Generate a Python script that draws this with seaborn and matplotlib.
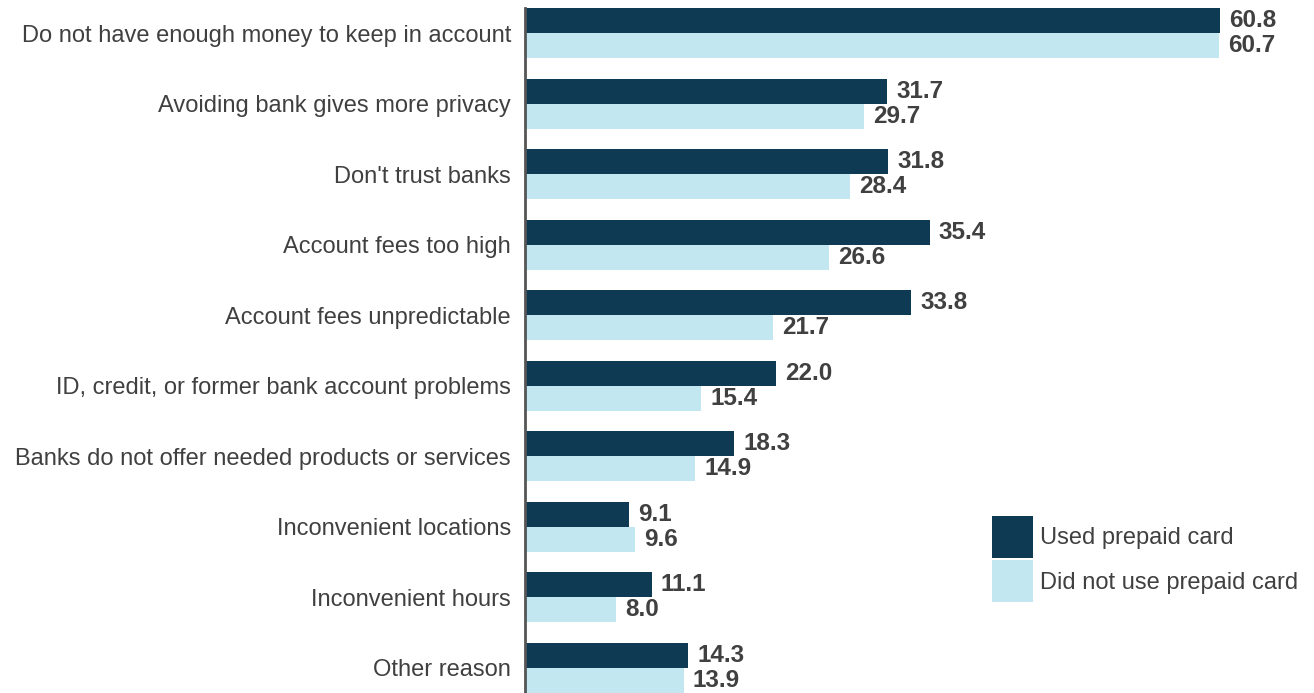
import matplotlib
matplotlib.use("Agg")
import matplotlib.pyplot as plt
import seaborn as sns
import pandas as pd

reasons = [
    "Do not have enough money to keep in account",
    "Avoiding bank gives more privacy",
    "Don't trust banks",
    "Account fees too high",
    "Account fees unpredictable",
    "ID, credit, or former bank account problems",
    "Banks do not offer needed products or services",
    "Inconvenient locations",
    "Inconvenient hours",
    "Other reason",
]
used_prepaid = [60.8, 31.7, 31.8, 35.4, 33.8, 22.0, 18.3, 9.1, 11.1, 14.3]
not_used_prepaid = [60.7, 29.7, 28.4, 26.6, 21.7, 15.4, 14.9, 9.6, 8.0, 13.9]
groups = ["Used prepaid card", "Did not use prepaid card"]
colors = ["#0f3a53", "#c3e7f1"]

df = pd.DataFrame({
    "reason": reasons * 2,
    "value": used_prepaid + not_used_prepaid,
    "group": [groups[0]] * len(reasons) + [groups[1]] * len(reasons),
})

sns.set_theme(style="white")
plt.rcParams["font.family"] = ["Liberation Sans", "DejaVu Sans"]
text_color = "#404040"

fig = plt.figure(figsize=(13.14, 6.93), dpi=100)
ax = fig.add_axes([525 / 1314, 0.0, 1 - 525 / 1314, 1 - 8 / 693])

width = 0.71
sns.barplot(data=df, y="reason", x="value", hue="group", orient="h",
            palette=colors, width=width, gap=0, ax=ax, legend=False,
            saturation=1, linewidth=0)

for cont in ax.containers:
    ax.bar_label(cont, fmt="%.1f", padding=6.5, fontsize=17.5,
                 fontweight="bold", color=text_color)

ax.set_xlim(0, (1314 - 525) / 11.43)
ax.set_ylim(len(reasons) - 1 + width / 2, -width / 2)
ax.set_xlabel("")
ax.set_ylabel("")
ax.set_xticks([])
ax.tick_params(axis="y", length=0, pad=10, labelsize=17, labelcolor=text_color)
for side in ["top", "right", "bottom"]:
    ax.spines[side].set_visible(False)
ax.spines["left"].set_color("#555555")
ax.spines["left"].set_linewidth(2)

handles = [plt.Rectangle((0, 0), 1, 1, facecolor=c, edgecolor="none") for c in colors]
fig.legend(handles, groups, loc="upper left", bbox_to_anchor=(992 / 1314, 1 - 516 / 693),
           frameon=False, fontsize=17, labelcolor=text_color,
           handlelength=1.74, handleheight=2.36, handletextpad=0.3,
           labelspacing=0.1, borderaxespad=0, borderpad=0)

fig.savefig("out.png", dpi=100)
